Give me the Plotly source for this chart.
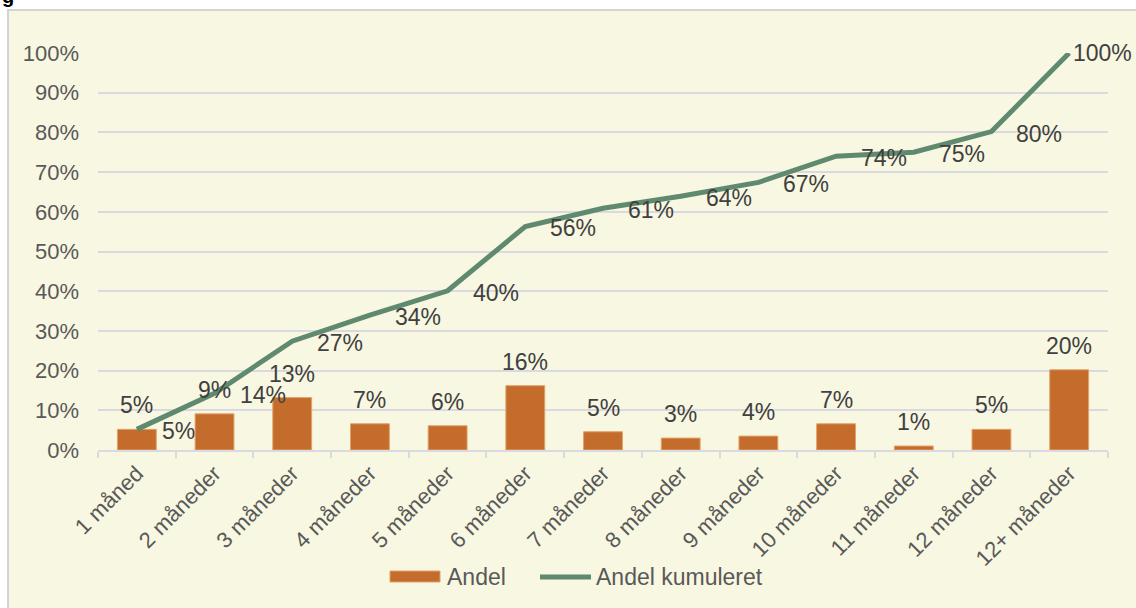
import plotly.graph_objects as go

categories = ["1 måned", "2 måneder", "3 måneder", "4 måneder", "5 måneder", "6 måneder",
              "7 måneder", "8 måneder", "9 måneder", "10 måneder", "11 måneder", "12 måneder",
              "12+ måneder"]
andel = [5.2, 9.1, 13.2, 6.6, 6.1, 16.2, 4.6, 3.0, 3.5, 6.6, 1.0, 5.2, 20.2]
kumuleret = [5.2, 14.3, 27.4, 34.0, 40.1, 56.3, 60.9, 63.9, 67.4, 74.0, 75.0, 80.2, 100.0]
yticks = [0, 10, 20, 30, 40, 50, 60, 70, 80, 90, 100]

W, H = 1136, 608
L, R, T, B = 98, 28, 53, 158
BG = "#F8F7E1"
BAR = "#C46C2C"
LINE = "#5F8A70"
TXT = "#595959"
LBL = "#404040"
GRID = "#D9D9DF"
FONT = "Liberation Sans, Arial, sans-serif"
FS = 23

pw = W - L - R
ph = H - T - B


def px_x(x):
    return (x - L) / pw


def px_y(y):
    return (H - B - y) / ph


fig = go.Figure()
fig.add_trace(go.Bar(
    x=categories, y=andel, name="Andel", showlegend=False,
    marker=dict(color=BAR, line=dict(color="#E3A06A", width=1)),
))
fig.add_trace(go.Scatter(
    x=categories, y=kumuleret, name="Andel kumuleret", mode="lines", showlegend=False,
    line=dict(color=LINE, width=5),
))

# bar data labels
for c, v in zip(categories, andel):
    fig.add_annotation(x=c, y=v, text=f"{v:.0f}%", showarrow=False,
                       xanchor="center", yanchor="bottom", yshift=9,
                       font=dict(size=FS, color=LBL, family=FONT))

# cumulative data labels
n = len(categories)
for i, (c, v) in enumerate(zip(categories, kumuleret)):
    last = i == n - 1
    fig.add_annotation(x=c, y=v, text=f"{v:.0f}%", showarrow=False,
                       xanchor="left", yanchor="middle",
                       xshift=2 if last else 23, yshift=0 if last else -2,
                       font=dict(size=FS, color=LBL, family=FONT))

# chart area background + border
fig.add_shape(type="rect", xref="paper", yref="paper",
              x0=px_x(8), x1=px_x(W + 5), y0=px_y(H + 5), y1=px_y(10),
              fillcolor=BG, line=dict(color="#D4D4D4", width=2), layer="below")

# cut-off text fragment at top-left
fig.add_annotation(xref="paper", yref="paper", x=px_x(0), y=px_y(9),
                   text="<b>g</b>", showarrow=False, xanchor="left", yanchor="bottom",
                   font=dict(size=20, color="#000000", family=FONT))

# manual legend
ly = 577
fig.add_shape(type="rect", xref="paper", yref="paper",
              x0=px_x(390), x1=px_x(440), y0=px_y(582), y1=px_y(571),
              fillcolor=BAR, line=dict(color="#E3A06A", width=1))
fig.add_annotation(xref="paper", yref="paper", x=px_x(445), y=px_y(ly), text="Andel",
                   showarrow=False, xanchor="left", yanchor="middle",
                   font=dict(size=FS, color=TXT, family=FONT))
fig.add_shape(type="line", xref="paper", yref="paper",
              x0=px_x(540), x1=px_x(591), y0=px_y(ly), y1=px_y(ly),
              line=dict(color=LINE, width=5))
fig.add_annotation(xref="paper", yref="paper", x=px_x(594), y=px_y(ly),
                   text="Andel kumuleret", showarrow=False, xanchor="left", yanchor="middle",
                   font=dict(size=FS, color=TXT, family=FONT))

fig.update_layout(
    width=W, height=H,
    paper_bgcolor="white", plot_bgcolor="rgba(0,0,0,0)",
    margin=dict(l=L, r=R, t=T, b=B, autoexpand=False),
    bargap=0.5,
    font=dict(family=FONT, color=TXT, size=FS),
    showlegend=False,
    xaxis=dict(type="category", range=[-0.5, n - 0.5], tickangle=-45, showgrid=False,
               showline=True, linecolor=GRID, linewidth=2,
               ticks="outside", tickson="boundaries", ticklen=6, tickcolor=GRID,
               tickwidth=2, tickfont=dict(size=FS - 1, color=TXT)),
    yaxis=dict(range=[0, 100], tickvals=yticks, ticktext=[f"{v}%" for v in yticks],
               showgrid=True, gridcolor=GRID, gridwidth=2, zeroline=False,
               showline=False, ticks="", ticklabelstandoff=18,
               tickfont=dict(size=FS - 1, color=TXT)),
)

fig.write_html("out.html", config={"displayModeBar": False},
               post_script="document.body.style.margin='0';")
